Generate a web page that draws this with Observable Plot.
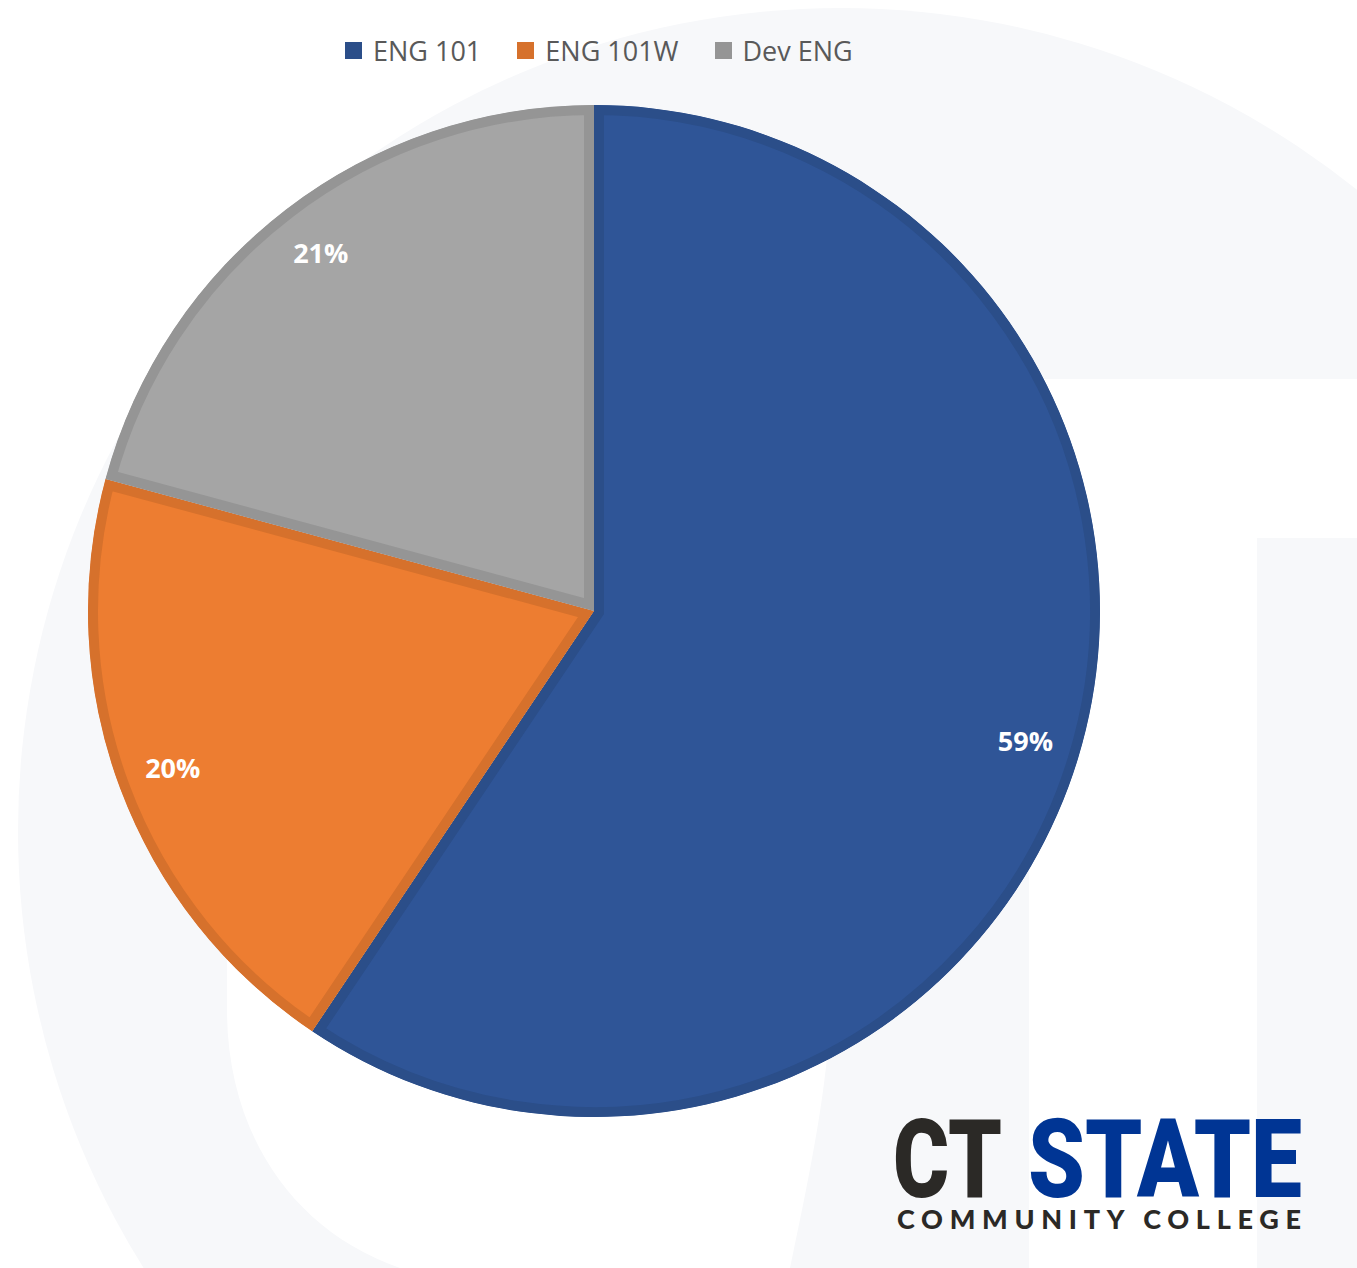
<!DOCTYPE html>
<html>
<head>
<meta charset="utf-8">
<script src="https://cdn.jsdelivr.net/npm/d3@7"></script>
<script src="https://cdn.jsdelivr.net/npm/@observablehq/plot@0.6"></script>
<style>
  html, body { margin: 0; padding: 0; background: #ffffff; }
  #page { position: relative; width: 1357px; height: 1268px; overflow: hidden; }
  #bg { position: absolute; left: 0; top: 0; z-index: 0; }
  #legend { position: relative; z-index: 1; height: 80px; box-sizing: border-box; padding-top: 20px; padding-left: 345px; display: flex; align-items: center; }
  #chart { position: relative; z-index: 1; }
  #logo { position: absolute; left: 880px; top: 1085px; z-index: 2; pointer-events: none; overflow: visible; }
  .lg-swatches .lg-swatch { margin-right: 36px !important; }
  .lg-swatches .lg-swatch > svg { margin-right: 11px !important; }
</style>
</head>
<body>
<div id="page">
  <svg id="bg" width="1357" height="1268">
    <circle cx="841" cy="831" r="823" fill="#F7F8FA"/>
    <path d="M227,640 L227,1010 C227,1130 290,1230 400,1268 L400,1300 L790,1300 L790,1268 C815,1150 830,1070 830,1000 L830,640 Z" fill="#ffffff"/>
    <rect x="1029" y="379" width="400" height="159" fill="#ffffff"/>
    <rect x="1029" y="379" width="228" height="950" fill="#ffffff"/>
  </svg>
  <div id="legend"></div>
  <div id="chart"></div>
  <svg id="logo" width="450" height="175">
    <text x="13" y="112" font-family="Roboto, 'Liberation Sans Narrow', sans-serif" font-weight="900" font-size="110" fill="#2B2926" textLength="109" lengthAdjust="spacingAndGlyphs">CT</text>
    <text x="148" y="112" font-family="Roboto, 'Liberation Sans Narrow', sans-serif" font-weight="900" font-size="110" fill="#003594" textLength="274" lengthAdjust="spacingAndGlyphs">STATE</text>
    <text x="17" y="144" font-family="Lato, 'Liberation Sans', sans-serif" font-weight="900" font-size="27" fill="#2B2926" textLength="404" lengthAdjust="spacing">COMMUNITY COLLEGE</text>
  </svg>
</div>
<script>
// ---- data ----
const categories = ["ENG 101", "ENG 101W", "Dev ENG"];
const shares = [59.4, 19.8, 20.8];
// ---- styles ----
const sliceColors = ["#2F5597", "#ED7D31", "#A5A5A5"];
const borderColors = ["#2B4E89", "#D6712C", "#959595"];

const rows = categories.map((category, i) => ({category, value: shares[i]}));
const total = d3.sum(rows, d => d.value);
const arcs = d3.pie().sort(null).value(d => d.value)(rows);
const pct = d3.format(".0%");
const labelRadius = 0.89;
const labels = arcs.map(a => {
  const mid = (a.startAngle + a.endAngle) / 2;
  return {
    category: a.data.category,
    x: labelRadius * Math.sin(mid),
    y: labelRadius * Math.cos(mid),
    text: pct(a.data.value / total)
  };
});

// legend
const legend = Plot.legend({
  color: {type: "ordinal", domain: categories, range: borderColors},
  className: "lg",
  swatchSize: 17,
  style: {fontSize: "27px", fontFamily: "'Open Sans', sans-serif", color: "#595959", margin: "0", background: "transparent"}
});
document.getElementById("legend").append(legend);

// pie slices as a custom mark using Plot's scales
function pieMark(index, scales, values, dimensions) {
  const x = scales.x, y = scales.y;
  const cx = x(0), cy = y(0), R = x(1) - x(0);
  const color = scales.color || d3.scaleOrdinal(categories, sliceColors);
  const g = d3.create("svg:g").attr("transform", `translate(${cx},${cy})`);
  const arc = d3.arc().innerRadius(0).outerRadius(R);
  arcs.forEach((a, i) => {
    const id = "slice-clip-" + i;
    g.append("clipPath").attr("id", id)
      .append("path").attr("d", arc(a));
    g.append("path")
      .attr("d", arc(a))
      .attr("fill", color(a.data.category))
      .attr("stroke", borderColors[i])
      .attr("stroke-width", 20)
      .attr("clip-path", `url(#${id})`);
  });
  return g.node();
}

const chart = Plot.plot({
  width: 1357,
  height: 1188,
  marginTop: 25,
  marginBottom: 151,
  marginLeft: 88,
  marginRight: 257,
  x: {domain: [-1, 1], axis: null},
  y: {domain: [-1, 1], axis: null},
  color: {domain: categories, range: sliceColors},
  style: {background: "transparent", overflow: "visible"},
  marks: [
    pieMark,
    Plot.text(labels, {
      x: "x", y: "y", text: "text",
      fill: "#ffffff", fontSize: 27, fontWeight: "bold",
      fontFamily: "'Open Sans', sans-serif"
    })
  ]
});
document.getElementById("chart").append(chart);
</script>
</body>
</html>
